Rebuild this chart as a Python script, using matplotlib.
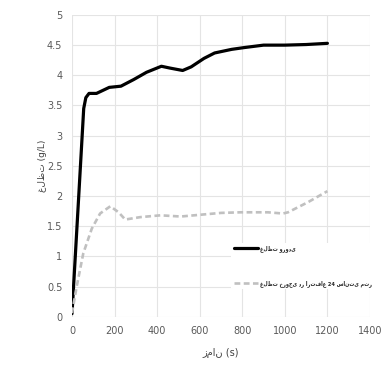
import matplotlib
matplotlib.use("Agg")
import matplotlib.pyplot as plt
from matplotlib import font_manager
from matplotlib.font_manager import FontProperties

# Data
inlet_t = [0, 30, 55, 65, 80, 115, 175, 230, 290, 350, 420, 460, 520, 560, 620, 670, 750, 810, 900, 1000, 1100, 1200]
inlet_c = [0.05, 1.90, 3.45, 3.63, 3.70, 3.70, 3.80, 3.82, 3.93, 4.05, 4.15, 4.12, 4.08, 4.14, 4.28, 4.37, 4.43, 4.46, 4.50, 4.50, 4.51, 4.53]
outlet_t = [0, 22, 53, 93, 132, 180, 219, 250, 321, 416, 511, 605, 700, 794, 920, 991, 1015, 1110, 1200]
outlet_c = [0.06, 0.50, 1.05, 1.46, 1.71, 1.83, 1.73, 1.61, 1.65, 1.68, 1.66, 1.69, 1.72, 1.73, 1.73, 1.71, 1.73, 1.90, 2.08]
x_ticks = [0, 200, 400, 600, 800, 1000, 1200, 1400]
y_ticks = [0, 0.5, 1, 1.5, 2, 2.5, 3, 3.5, 4, 4.5, 5]
y_tick_labels = ["0", "0.5", "1", "1.5", "2", "2.5", "3", "3.5", "4", "4.5", "5"]
label_inlet = "غلظت ورودی"
label_outlet = "غلظت خروجی در ارتفاع 24 سانتی متر"
x_label = "زمان (s)"
y_label = "غلظت (g/L)"

names = {f.name for f in font_manager.fontManager.ttflist}
tick_font = "Liberation Sans Narrow" if "Liberation Sans Narrow" in names else "DejaVu Sans"
plt.rcParams['font.family'] = ['DejaVu Sans']

fig = plt.figure(figsize=(3.82, 3.74), dpi=100)
ax = fig.add_axes([0.1885, 0.1532, 0.78, 0.8068])

ax.plot(inlet_t, inlet_c, color="black", lw=2.3, solid_capstyle="round",
        solid_joinstyle="round", label=label_inlet, zorder=3)
ax.plot(outlet_t, outlet_c, color="#c0c0c0", lw=1.9, dashes=(2.2, 1.3), label=label_outlet, zorder=3)

ax.set_xlim(0, 1400)
ax.set_ylim(0, 5)
ax.set_xticks(x_ticks)
ax.set_yticks(y_ticks)
ax.set_yticklabels(y_tick_labels)
ax.grid(True, color="#e4e4e4", lw=0.8)
ax.set_axisbelow(True)
for s in ax.spines.values():
    s.set_visible(False)
ax.tick_params(length=0, labelsize=7, colors="#595959", pad=7)
for lab in ax.get_xticklabels() + ax.get_yticklabels():
    lab.set_fontfamily(tick_font)

ax.set_xlabel(x_label, fontsize=7, color="#404040", labelpad=8)
ax.set_ylabel(y_label, fontsize=6.5, color="#404040", labelpad=0)

legend_font = FontProperties(family="DejaVu Sans", stretch="condensed", weight="bold", size=4.0)
leg = ax.legend(loc="upper left", bbox_to_anchor=(0.535, 0.245), frameon=True, prop=legend_font,
                handlelength=4.3, handletextpad=0.4, labelspacing=5.0, borderaxespad=0,
                borderpad=0.4)
leg.get_frame().set_facecolor("white")
leg.get_frame().set_edgecolor("none")
leg.get_frame().set_alpha(1)
for t in leg.get_texts():
    t.set_color("#262626")

fig.savefig("out.png", dpi=100)
